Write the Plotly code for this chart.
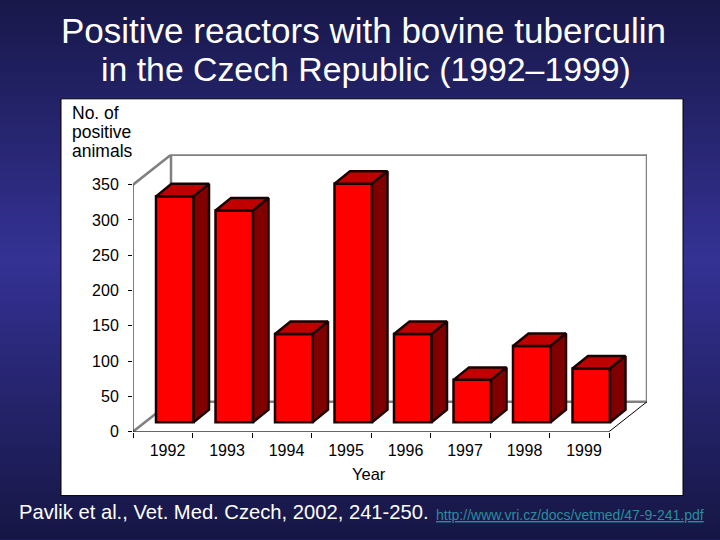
import plotly.graph_objects as go

# Data
years = ["1992", "1993", "1994", "1995", "1996", "1997", "1998", "1999"]
positive_animals = [320, 300, 125, 338, 125, 60, 108, 76]
y_ticks = [0, 50, 100, 150, 200, 250, 300, 350]

# Colours
FRONT, TOP, SIDE, EDGE = "#ff0000", "#c00000", "#800000", "#1c0000"
WALL = "#808080"

# Geometry in figure pixels
W, H = 720, 540
X0, X8, Y0, Y350 = 133, 609, 432.5, 185
XBACK, YBACK_TOP = 647, 154.5
PX_PER_CAT = (X8 - X0) / 8
PX_PER_UNIT = (Y0 - Y350) / 350
X_RANGE_MAX = (XBACK - X0) / PX_PER_CAT
Y_RANGE_MAX = (Y0 - YBACK_TOP) / PX_PER_UNIT

WALL_DX = 38 / PX_PER_CAT
WALL_DY = 30 / PX_PER_UNIT
BAR_WIDTH = 37.5 / PX_PER_CAT
BAR_LEFT = 23 / PX_PER_CAT
BAR_FLOOR = 9.5 / PX_PER_UNIT
DEPTH_DX = 15.5 / PX_PER_CAT
DEPTH_DY = 12.5 / PX_PER_UNIT

BACK_STOPS = [(0, (24, 24, 74)), (0.48, (52, 50, 148)), (1, (22, 22, 68))]


def bg_colour(t):
    for (a, ca), (b, cb) in zip(BACK_STOPS, BACK_STOPS[1:]):
        if t <= b:
            f = (t - a) / (b - a)
            return "rgb(%d,%d,%d)" % tuple(round(p + (q - p) * f) for p, q in zip(ca, cb))
    return "rgb(%d,%d,%d)" % BACK_STOPS[-1][1]


shapes = []
STEP = 3
for py in range(0, H, STEP):
    shapes.append(dict(type="rect", xref="paper", yref="paper", layer="below",
                       x0=0, x1=1, y0=1 - py / H, y1=max(0, 1 - (py + 3 * STEP) / H),
                       fillcolor=bg_colour((py + STEP / 2) / H), line=dict(width=0)))
shapes.append(dict(type="rect", xref="paper", yref="paper", layer="below",
                   x0=61 / W, x1=683 / W, y0=1 - 99 / H, y1=1 - 496.5 / H,
                   fillcolor="white", line=dict(color="black", width=1)))


def seg(x0, y0, x1, y1, color, width):
    shapes.append(dict(type="line", xref="x", yref="y", layer="below",
                       x0=x0, y0=y0, x1=x1, y1=y1, line=dict(color=color, width=width)))


# Back and side walls
seg(0, 350, WALL_DX, 350 + WALL_DY, WALL, 2.5)
seg(0, 0, WALL_DX, WALL_DY, WALL, 2.5)
seg(WALL_DX, WALL_DY, WALL_DX, 350 + WALL_DY, WALL, 2.5)
seg(WALL_DX, 350 + WALL_DY, 8 + WALL_DX, 350 + WALL_DY, WALL, 2.5)
seg(8 + WALL_DX, 350 + WALL_DY, 8 + WALL_DX, WALL_DY, WALL, 2.5)
seg(WALL_DX, WALL_DY, 8 + WALL_DX, WALL_DY, WALL, 2.5)
# Front axes and floor edge
seg(8, 0, 8 + WALL_DX, WALL_DY, "black", 1)
seg(0, 0, 0, 350, "black", 1)
seg(0, 0, 8, 0, "black", 1)

fig = go.Figure()
positions = [i + BAR_LEFT + BAR_WIDTH / 2 for i in range(len(years))]
fig.add_trace(go.Bar(x=positions, y=positive_animals, base=BAR_FLOOR, width=BAR_WIDTH,
                     marker=dict(color=FRONT, line=dict(color=EDGE, width=2.5)),
                     name="Positive animals", showlegend=False))

for centre, value in zip(positions, positive_animals):
    left = centre - BAR_WIDTH / 2
    right = centre + BAR_WIDTH / 2
    top = BAR_FLOOR + value
    fig.add_trace(go.Scatter(
        x=[left, right, right + DEPTH_DX, left + DEPTH_DX, left],
        y=[top, top, top + DEPTH_DY, top + DEPTH_DY, top],
        mode="lines", fill="toself", fillcolor=TOP,
        line=dict(color=EDGE, width=2.5), showlegend=False, hoverinfo="skip"))
    fig.add_trace(go.Scatter(
        x=[right, right + DEPTH_DX, right + DEPTH_DX, right, right],
        y=[BAR_FLOOR, BAR_FLOOR + DEPTH_DY, top + DEPTH_DY, top, BAR_FLOOR],
        mode="lines", fill="toself", fillcolor=SIDE,
        line=dict(color=EDGE, width=2.5), showlegend=False, hoverinfo="skip"))

FONT = "Liberation Sans, Arial, sans-serif"


def note(text, x, y, size, color, anchor="center"):
    return dict(text=text, xref="paper", yref="paper", x=x / W, y=1 - y / H,
                xanchor=anchor, yanchor="middle", showarrow=False,
                font=dict(family=FONT, size=size, color=color))


annotations = [
    note("Positive reactors with bovine tuberculin", 363, 31, 35, "white"),
    note("in the Czech Republic (1992–1999)", 365.5, 69, 33.8, "white"),
    note("No. of", 70, 113, 17.5, "black", "left"),
    note("positive", 70, 132, 17.5, "black", "left"),
    note("animals", 70, 151, 17.5, "black", "left"),
    note("Year", 369, 475, 16.5, "black"),
    note("Pavlik et al., Vet. Med. Czech, 2002, 241-250.", 16.5, 513, 20.2, "white", "left"),
    note("<u>http://www.vri.cz/docs/vetmed/47-9-241.pdf</u>", 434, 516, 14, "#2b8c9c", "left"),
]

fig.update_layout(
    width=W, height=H + 8, autosize=False,
    margin=dict(l=0, r=0, t=0, b=0),
    paper_bgcolor="#1a1a5a", plot_bgcolor="rgba(0,0,0,0)",
    shapes=shapes, annotations=annotations, showlegend=False,
    font=dict(family=FONT, size=16, color="black"),
    xaxis=dict(domain=[X0 / W, XBACK / W], range=[0, X_RANGE_MAX],
               showgrid=False, zeroline=False, showline=False,
               tickmode="array", tickvals=[i + 0.58 for i in range(len(years))],
               ticktext=years, ticks="", ticklabelstandoff=7,
               minor=dict(tickmode="array", tickvals=list(range(len(years) + 1)),
                          ticks="outside", ticklen=5, tickcolor="black", tickwidth=1, showgrid=False)),
    yaxis=dict(domain=[1 - Y0 / H, 1 - YBACK_TOP / H], range=[0, Y_RANGE_MAX],
               showgrid=False, zeroline=False, showline=False,
               tickmode="array", tickvals=y_ticks,
               ticks="outside", ticklen=4, tickcolor="black", tickwidth=1,
               ticklabelstandoff=6),
)

fig.write_html("out.html", config=dict(displayModeBar=False),
               post_script="document.body.style.margin='0';document.documentElement.style.overflow='hidden';")
